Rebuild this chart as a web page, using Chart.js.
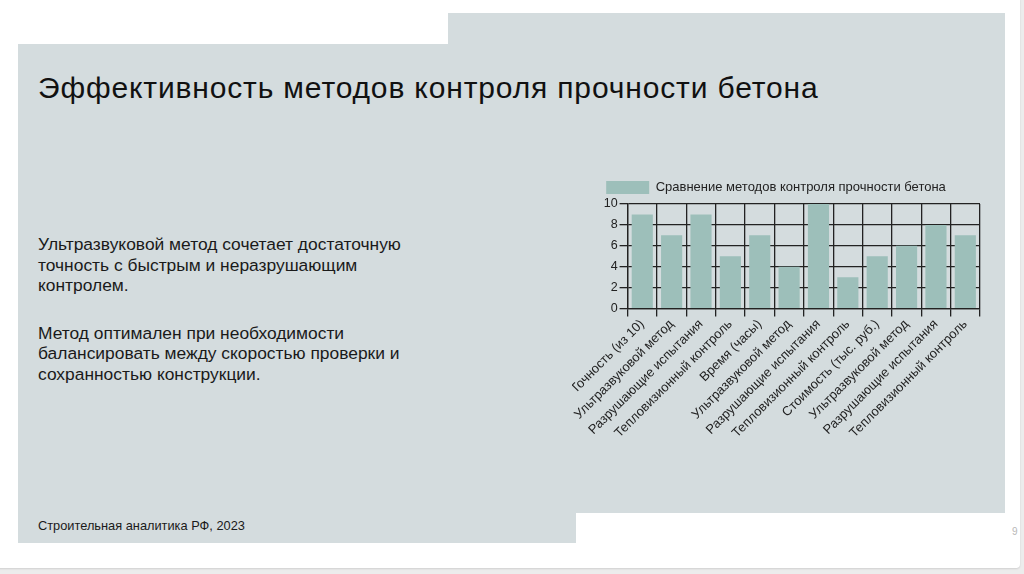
<!DOCTYPE html>
<html lang="ru">
<head>
<meta charset="utf-8">
<script src="https://cdn.jsdelivr.net/npm/chart.js@4"></script>
<style>
  html, body { margin: 0; padding: 0; }
  body {
    width: 1024px; height: 574px; position: relative; overflow: hidden;
    background: #ececec; font-family: "Liberation Sans", Arial, sans-serif;
  }
  .slide {
    position: absolute; left: -4px; top: -4px; width: 1024px; height: 572px;
    background: #ffffff; border-radius: 4px; box-shadow: 0 1px 2px rgba(0,0,0,0.12);
  }
  .panel { position: absolute; background: #d4dcde; }
  .title {
    position: absolute; left: 38px; top: 71px; margin: 0;
    font-size: 30px; letter-spacing: 0.85px; font-weight: normal; color: #111;
  }
  .text {
    position: absolute; left: 38px; top: 234px; width: 372px;
    font-size: 17.4px; line-height: 20.6px; color: #1a1a1a;
  }
  .text p { margin: 0 0 27px 0; }
  .source {
    position: absolute; left: 38px; top: 518px; font-size: 12.8px; color: #1a1a1a;
  }
  .page-num {
    position: absolute; left: 1012px; top: 526px; font-size: 10px; color: #b8b8b8;
  }
  .chart-box { position: absolute; left: 572px; top: 169px; width: 412px; height: 272px; }
</style>
</head>
<body>
<div class="slide"></div>
<div class="panel" style="left:18px; top:44px; width:987px; height:469px;"></div>
<div class="panel" style="left:448px; top:13px; width:557px; height:31px;"></div>
<div class="panel" style="left:18px; top:513px; width:558px; height:30px;"></div>

<h1 class="title">Эффективность методов контроля прочности бетона</h1>
<div class="text">
  <p>Ультразвуковой метод сочетает достаточную точность с быстрым и неразрушающим контролем.</p>
  <p>Метод оптимален при необходимости балансировать между скоростью проверки и сохранностью конструкции.</p>
</div>
<div class="source">Строительная аналитика РФ, 2023</div>
<div class="page-num">9</div>

<div class="chart-box"><canvas id="methodsChart"></canvas></div>

<script>
const categories = [
  'Точность (из 10)',
  'Ультразвуковой метод',
  'Разрушающие испытания',
  'Тепловизионный контроль',
  'Время (часы)',
  'Ультразвуковой метод',
  'Разрушающие испытания',
  'Тепловизионный контроль',
  'Стоимость (тыс. руб.)',
  'Ультразвуковой метод',
  'Разрушающие испытания',
  'Тепловизионный контроль'
];
const seriesValues = [9, 7, 9, 5, 7, 4, 10, 3, 5, 6, 8, 7];
const seriesName = 'Сравнение методов контроля прочности бетона';

const ctx = document.getElementById('methodsChart');
new Chart(ctx, {
  type: 'bar',
  data: {
    labels: categories,
    datasets: [{
      label: seriesName,
      data: seriesValues,
      backgroundColor: '#9dbfba',
      borderWidth: 0,
      categoryPercentage: 0.8,
      barPercentage: 0.9
    }]
  },
  options: {
    responsive: true,
    maintainAspectRatio: false,
    animation: false,
    layout: { padding: { left: 0, right: 4, top: 4, bottom: 0 } },
    plugins: {
      tooltip: { enabled: false },
      legend: {
        position: 'top',
        labels: {
          color: '#222',
          boxWidth: 43,
          boxHeight: 13,
          padding: 8,
          font: { family: 'Liberation Sans', size: 13 }
        }
      }
    },
    scales: {
      x: {
        grid: { color: '#222', lineWidth: 1.3, tickLength: 8 },
        border: { color: '#222', width: 1.3 },
        ticks: {
          color: '#222',
          minRotation: 45,
          maxRotation: 45,
          autoSkip: false,
          padding: 0,
          font: { family: 'Liberation Sans', size: 13 }
        }
      },
      y: {
        min: 0,
        max: 10,
        grid: { color: '#222', lineWidth: 1.3, tickLength: 8 },
        border: { color: '#222', width: 1.3 },
        ticks: {
          stepSize: 2,
          color: '#222',
          padding: 2,
          font: { family: 'Liberation Sans', size: 12.5 }
        }
      }
    }
  }
});
</script>
</body>
</html>
